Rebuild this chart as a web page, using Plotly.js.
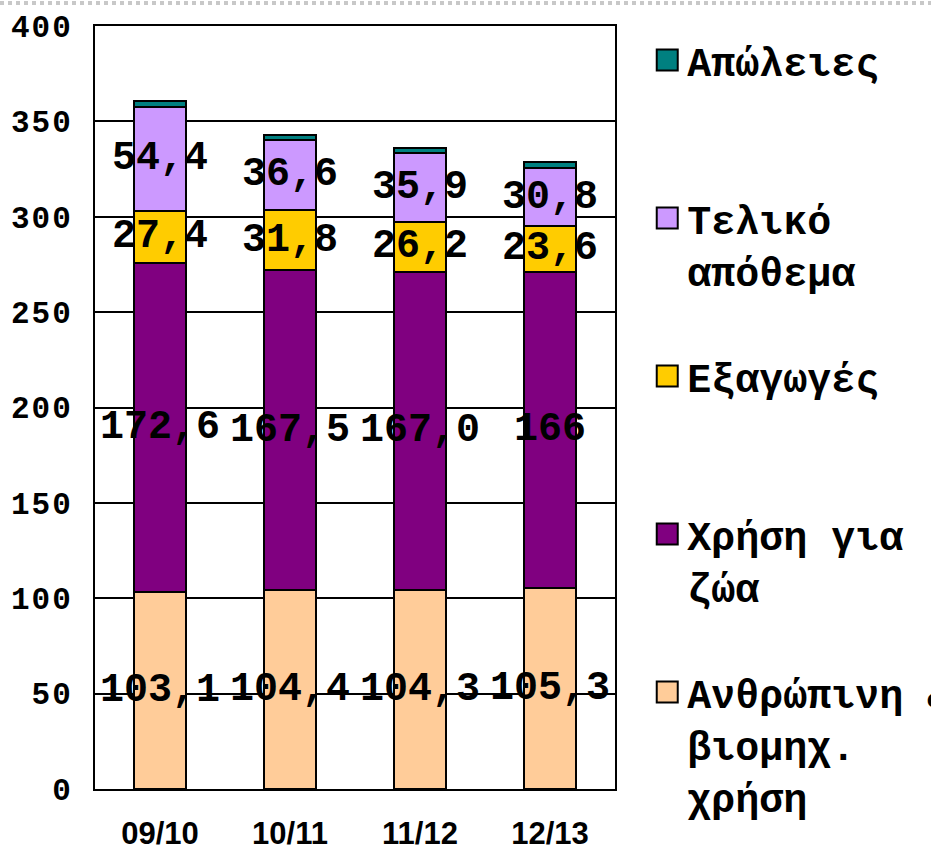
<!DOCTYPE html>
<html>
<head>
<meta charset="utf-8">
<script src="https://cdn.plot.ly/plotly-3.0.1.min.js"></script>
<style>
html, body { margin: 0; padding: 0; background: #fff; }
#chart { width: 931px; height: 850px; }
.legendpoints path { d: path("M10.5,10.5H-10.5V-10.5H10.5Z"); }
.ytick text { letter-spacing: 2px; }
</style>
</head>
<body>
<div id="chart"></div>
<script>
// ---- data ----
const categories = ['09/10', '10/11', '11/12', '12/13'];
const humanUse   = [103.1, 104.4, 104.3, 105.3];
const animalUse  = [172.6, 167.5, 167.0, 166.0];
const exportsVal = [27.4, 31.8, 26.2, 23.6];
const finalStock = [54.4, 36.6, 35.9, 30.8];
const losses     = [3.1, 2.6, 2.5, 2.9];

const humanLabels  = ['103,1', '104,4', '104,3', '105,3'];
const animalLabels = ['172,6', '167,5', '167,0', '166'];
const exportLabels = ['27,4', '31,8', '26,2', '23,6'];
const stockLabels  = ['54,4', '36,6', '35,9', '30,8'];

const seriesNames = [
  'Ανθρώπινη &<br>βιομηχ.<br>χρήση',
  'Χρήση για<br>ζώα',
  'Εξαγωγές<br>\u00a0',
  'Τελικό<br>απόθεμα',
  'Απώλειες<br>\u00a0'
];
const seriesColors = ['#FFCC99', '#800080', '#FFCC00', '#CC99FF', '#008080'];
const seriesValues = [humanUse, animalUse, exportsVal, finalStock, losses];
const seriesLabels = [humanLabels, animalLabels, exportLabels, stockLabels, null];

const yTickVals = [0, 50, 100, 150, 200, 250, 300, 350, 400];

// ---- traces ----
const traces = seriesValues.map((vals, i) => {
  const t = {
    type: 'bar',
    x: categories,
    y: vals,
    name: seriesNames[i],
    legendgroup: 'g' + i,
    legendrank: 1000 - i * 10,
    marker: { color: seriesColors[i], line: { color: '#000', width: 2 } },
    hoverinfo: 'x+y'
  };
  if (seriesLabels[i]) {
    t.text = seriesLabels[i];
    t.textposition = 'inside';
    t.insidetextanchor = 'middle';
    t.textangle = 0;
    t.constraintext = 'none';
    t.insidetextfont = { family: 'Liberation Mono, Courier New, monospace', size: 40, color: '#000', weight: 'bold' };
  } else {
    t.textposition = 'none';
  }
  return t;
});

const layout = {
  width: 931,
  height: 850,
  margin: { l: 95, r: 316, t: 26, b: 61, pad: 0, autoexpand: false },
  paper_bgcolor: '#fff',
  plot_bgcolor: '#fff',
  barmode: 'stack',
  bargap: 0.6,
  showlegend: true,
  legend: {
    x: 1.062, xanchor: 'left',
    y: 0.998, yanchor: 'top',
    traceorder: 'grouped',
    tracegroupgap: 51,
    valign: 'top',
    maxheight: 2000,
    bgcolor: 'rgba(0,0,0,0)',
    font: { family: 'Liberation Mono, Courier New, monospace', size: 40, color: '#000', weight: 'bold' }
  },
  xaxis: {
    type: 'category',
    showline: true, linecolor: '#000', linewidth: 2, mirror: true,
    ticks: '',
    ticklabelstandoff: 16,
    tickfont: { family: 'Liberation Sans, Arial, sans-serif', size: 31, color: '#000', weight: 'bold' },
    showgrid: false, zeroline: false
  },
  yaxis: {
    range: [0, 400],
    tickvals: yTickVals,
    ticktext: yTickVals.map(String),
    showline: true, linecolor: '#000', linewidth: 2, mirror: true,
    showgrid: true, gridcolor: '#000', gridwidth: 2,
    zeroline: false,
    ticks: '',
    ticklabelstandoff: 14,
    tickfont: { family: 'Liberation Mono, Courier New, monospace', size: 31, color: '#000', weight: 'bold' }
  },
  shapes: [{
    type: 'line', xref: 'paper', yref: 'paper',
    x0: -95 / 520, x1: (931 - 95) / 520,
    y0: (789 - 3) / 763, y1: (789 - 3) / 763,
    line: { color: '#c8c8c8', width: 4, dash: 'dot' }
  }]
};

Plotly.newPlot('chart', traces, layout, { displayModeBar: false, staticPlot: true });
</script>
</body>
</html>
